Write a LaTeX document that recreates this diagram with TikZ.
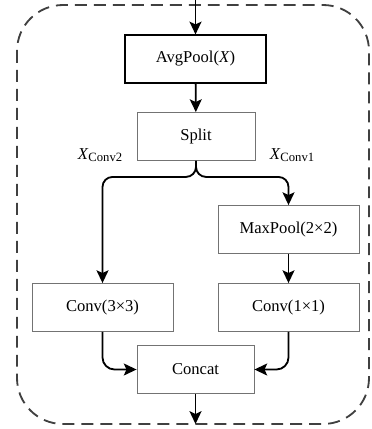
\documentclass[tikz,border=0pt]{standalone}
\usepackage{fontspec}
\setmainfont{Liberation Serif}
\usetikzlibrary{positioning,arrows.meta}

\begin{document}
\begin{tikzpicture}[x=0.025cm,y=-0.025cm]
        \tikzstyle{blk}=[rectangle, draw=black!55, line width=0.6pt, minimum height=1.2cm, font=\fontsize{11.8}{14}\selectfont]
        \tikzstyle{arr}=[line width=1.3pt, -{Stealth[length=3.2mm,width=3mm,inset=0.7mm]}]

        \useasboundingbox (0,0) rectangle (371,429);
        % dashed frame round the whole block
        \draw[black!75, line width=1.3pt, dash pattern=on 8.5pt off 5pt, rounded corners=1.15cm] (17,5) rectangle (369,424);

        \node[blk, draw=black, line width=0.8pt, minimum width=3.525cm] (avg) at (195.5,59) {AvgPool(\textit{X})};
        \node[blk, minimum width=2.95cm] (split) at (196,136.5) {Split};
        \node[blk, minimum width=3.525cm] (mpool) at (288.5,229.5) {MaxPool(2×2)};
        \node[blk, minimum width=3.525cm] (conv1) at (288.5,307.5) {Conv(1×1)};
        \node[blk, minimum width=3.525cm] (conv3) at (102.5,307.5) {Conv(3×3)};
        \node[blk, minimum width=2.925cm] (cat) at (195.5,369.5) {Concat};

        \node (xc2) at (100,155) {\fontsize{11.8}{14}\selectfont\textit{X}\raisebox{-0.3ex}{\fontsize{9}{10}\selectfont Conv2}};
        \node (xc1) at (292,155) {\fontsize{11.8}{14}\selectfont\textit{X}\raisebox{-0.3ex}{\fontsize{9}{10}\selectfont Conv1}};

        \coordinate (in) at (195.5,0);
        \coordinate (out) at (195.5,424);

        \draw[arr] (in) -- (avg);
        \draw[arr] (avg) -- (split);
        \draw[arr, rounded corners=0.25cm] (split.south) -- ++(0,16) -| (conv3.north);
        \draw[arr, rounded corners=0.25cm] (split.south) -- ++(0,16) -| (mpool.north);
        \draw[arr] (mpool) -- (conv1);
        \draw[arr, rounded corners=0.3cm] (conv3.south) |- (cat.west);
        \draw[arr, rounded corners=0.3cm] (conv1.south) |- (cat.east);
        \draw[arr] (cat) -- (out);

    \end{tikzpicture}
\end{document}
